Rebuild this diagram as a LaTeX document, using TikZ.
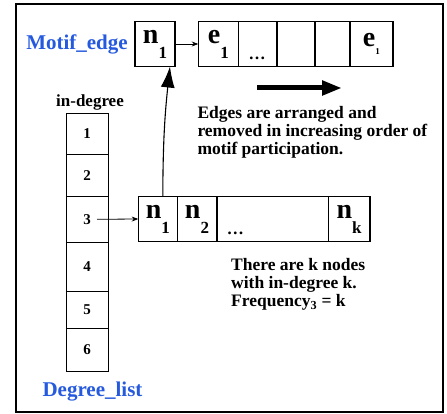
\documentclass[tikz,border=0pt]{standalone}
\usepackage{fontspec}
\setmainfont{Liberation Serif}
\usepackage{tikz}
\usetikzlibrary{arrows.meta,positioning,calc}
\definecolor{listblue}{RGB}{38,90,222}
\newcommand{\low}[1]{\raisebox{-15pt}{\fontsize{17}{17}\selectfont #1}}
\newcommand{\tinylow}[1]{\raisebox{-8pt}{\fontsize{9}{9}\selectfont #1}}

\tikzset{
  cell/.style={draw,line width=1.6pt,minimum height=45pt,inner sep=0pt,outer sep=0pt,
    font=\bfseries\fontsize{28}{28}\selectfont},
  degcell/.style={draw,line width=1pt,minimum width=42pt,inner sep=0pt,outer sep=0pt,
    font=\bfseries\fontsize{15}{15}\selectfont},
  listname/.style={text=listblue,font=\bfseries\fontsize{21}{21}\selectfont},
  note/.style={align=left,anchor=north west,inner sep=0pt,
    font=\bfseries\fontsize{17.5}{18.3}\selectfont},
  dots/.style={anchor=base west,inner sep=0pt,xshift=10pt,yshift=7pt,
    font=\bfseries\fontsize{17}{17}\selectfont},
}

\begin{document}
\begin{tikzpicture}[x=1pt,y=-1pt,>=Stealth]
  \useasboundingbox (0,0) rectangle (447,414);
  % Frame
  \draw[line width=1.3pt] (16,4) rectangle (443,412);

  % Motif edge list
  \node[listname] (motif) at (77,44) {Motif\_edge};
  \node[cell,minimum width=40pt] (mn1) at (155,44) {n\low{1}};
  \node[cell,minimum width=40pt,anchor=west] (e1) at (198.3,44) {e\low{1}};
  \node[cell,minimum width=38.4pt,right=0pt of e1,label={[dots]south west:\ldots}] (e2) {};
  \node[cell,minimum width=38.3pt,right=0pt of e2] (e3) {};
  \node[cell,minimum width=35pt,right=0pt of e3] (e4) {};
  \node[cell,minimum width=42.7pt,right=0pt of e4] (e5) {e\tinylow{1}};
  \draw[->,line width=0.8pt] (mn1) -- (e1);

  % Order arrow
  \coordinate (flow start) at (257,88);
  \coordinate (flow end) at (342,88);
  \draw[line width=5pt,-{Triangle[length=20pt,width=14pt]}] (flow start) -- (flow end);
  \node[note] (edgenote) at (197.3,106) {Edges are arranged and\\removed in increasing order of\\motif participation.};

  % Degree list
  \node[font=\bfseries\fontsize{17}{17}\selectfont] (indeg) at (90,102) {in-degree};
  \node[degcell,minimum height=41pt,anchor=north] (d1) at (87,113.3) {1};
  \node[degcell,minimum height=42pt,below=0pt of d1] (d2) {2};
  \node[degcell,minimum height=46pt,below=0pt of d2] (d3) {3};
  \node[degcell,minimum height=49pt,below=0pt of d3] (d4) {4};
  \node[degcell,minimum height=37pt,below=0pt of d4] (d5) {5};
  \node[degcell,minimum height=43pt,below=0pt of d5] (d6) {6};
  \node[listname] (deglist) at (92.5,392) {Degree\_list};

  % Nodes with in-degree 3
  \node[cell,minimum width=39pt,anchor=west] (bn1) at (138.3,219) {n\low{1}};
  \node[cell,minimum width=39.4pt,right=0pt of bn1] (bn2) {n\low{2}};
  \node[cell,minimum width=111.6pt,right=0pt of bn2,label={[dots]south west:\ldots}] (bdots) {};
  \node[cell,minimum width=41.7pt,right=0pt of bdots] (bnk) {n\low{k}};
  \draw[->,line width=0.8pt] ([xshift=10pt]d3.center) -- (bn1.west);
  \draw[-{Latex[length=21pt,width=14pt]},line width=1.1pt]
    ([xshift=5pt]bn1.north) to[bend left=3] ([xshift=15pt]mn1.south);
  \node[note] (freqnote) at (231,258) {There are k nodes\\with in-degree k.\\Frequency\textsubscript{3} = k};
\end{tikzpicture}
\end{document}
